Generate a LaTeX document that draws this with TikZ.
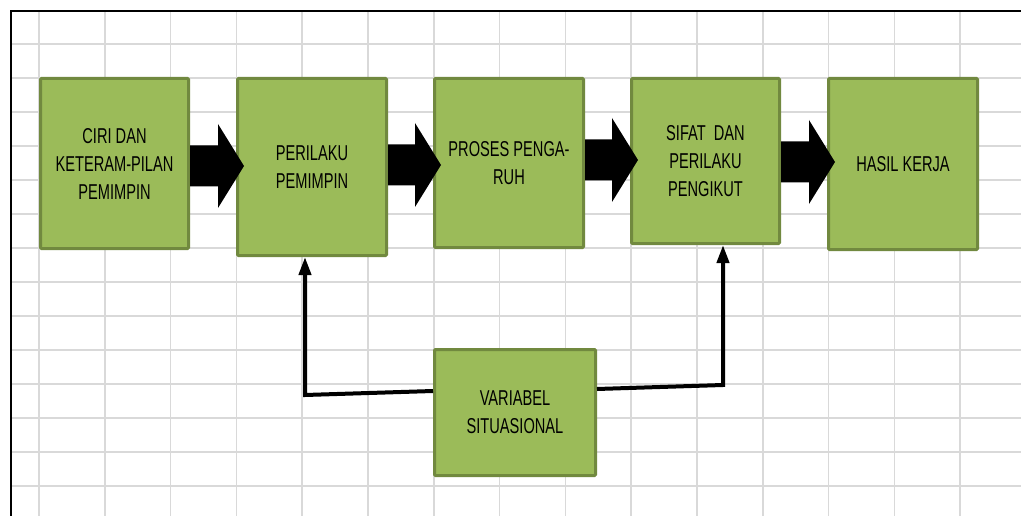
\documentclass[tikz,border=0pt]{standalone}
\usepackage{fontspec}
\setmainfont[FakeStretch=0.68]{Liberation Sans}
\usetikzlibrary{arrows.meta,calc}
\definecolor{kotak}{HTML}{9BBB59}
\definecolor{tepi}{HTML}{71893F}
\definecolor{garis}{HTML}{D9D9D9}
\tikzset{
  box/.style={draw=tepi, fill=kotak, line width=3pt, align=center, inner sep=0pt,
    rounded corners=1pt, font=\fontsize{21.5}{28}\selectfont},
  link/.style={line width=4pt, -{Triangle[length=18pt,width=12pt]}},
  gridline/.style={garis, line width=1.6pt}
}

\begin{document}
\begin{tikzpicture}[x=1pt,y=-1pt]
\useasboundingbox (0,0) rectangle (1021,516);
% sheet grid
\foreach \k in {0,...,14} \draw[gridline] ({39+65.8*\k},11) -- ({39+65.8*\k},516);
\foreach \k in {0,...,13} \draw[gridline] (11,{44+34*\k}) -- (1021,{44+34*\k});
\draw [line width=2pt] (11,516) -- (11,11) -- (1021,11);

% boxes
\node[box, minimum width=148pt, minimum height=170pt] (ciri) at (114.5,163.5) {CIRI DAN\\KETERAM-PILAN\\PEMIMPIN};
\node[box, minimum width=149pt, minimum height=177pt] (perilaku) at (312,167) {PERILAKU\\PEMIMPIN};
\node[box, minimum width=149pt, minimum height=169pt] (proses) at (509,163) {PROSES PENGA-\\RUH};
\node[box, minimum width=148pt, minimum height=165pt] (sifat) at (705.5,161) {SIFAT\ \ DAN\\PERILAKU\\PENGIKUT};
\node[box, minimum width=149pt, minimum height=171pt] (hasil) at (903,164) {HASIL KERJA};
\node[box, minimum width=161pt, minimum height=126pt] (variabel) at (515,412.5) {VARIABEL\\SITUASIONAL};

% block arrows
\foreach \a/\b/\y in {ciri/perilaku/166, perilaku/proses/165, proses/sifat/160, sifat/hasil/162}
  \fill ($(\a.east |- 0,\y)+(0,-20.5)$) -- ($(\b.west |- 0,\y)+(-18,-20.5)$) -- ++(0,-21.5)
    -- ($(\b.west |- 0,\y)+(8,0)$) -- ++(-26,42) -- ++(0,-21.5)
    -- ($(\a.east |- 0,\y)+(0,20.5)$) -- cycle;

% situational links
\coordinate (kiri) at (305,395);
\coordinate (kanan) at (723,385);
\draw [link] (variabel.west |- 0,391) -- (kiri) -- (kiri |- perilaku.south);
\draw [link] (variabel.east |- 0,389) -- (kanan) -- (kanan |- sifat.south);
\end{tikzpicture}
\end{document}
